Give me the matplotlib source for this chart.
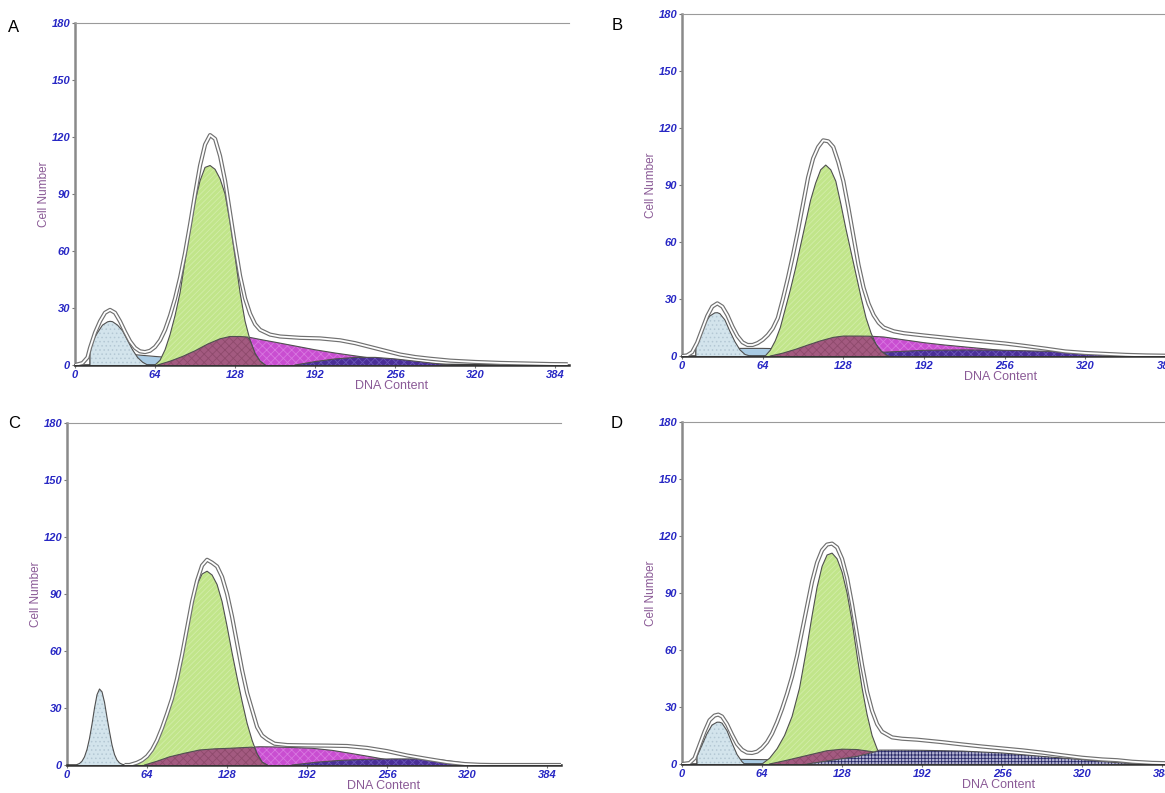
import matplotlib
matplotlib.use("Agg")
import matplotlib.pyplot as plt

plt.rcParams['font.family'] = ['Liberation Sans', 'DejaVu Sans']
plt.rcParams['hatch.linewidth'] = 0.6

# ---------------- panel A ----------------
a_env_x = [0, 6, 10, 12, 16, 20, 24, 28, 32, 36, 40, 44, 48, 52, 56, 60, 64, 68, 72, 76, 80, 84, 88, 92, 96,
           100, 104, 108, 112, 116, 120, 124, 128, 132, 136, 140, 144, 148, 156, 164, 180, 196, 212, 224, 236,
           248, 260, 272, 284, 300, 320, 340, 360, 380, 394]
a_env_y = [0, 1, 4, 9, 17, 23, 27.5, 29, 27.5, 23, 17.5, 12.5, 9, 7.2, 6.8, 7.5, 9.5, 13, 18.5, 26, 35, 46, 59, 74, 90,
           105, 116, 121, 119, 110, 97, 80, 63, 47, 35, 27, 21.5, 18.5, 16, 15, 14.3, 14, 13, 11.5, 9.5,
           7.5, 5.5, 4.2, 3.3, 2.3, 1.6, 1.1, 0.8, 0.5, 0.4]
a_base_x = [12, 12, 30, 50, 64, 76, 100, 128, 160, 192, 224, 256, 288, 320, 352, 384]
a_base_y = [0, 7.5, 6.5, 5.3, 4.5, 3.9, 3.2, 2.5, 1.9, 1.4, 1.0, 0.7, 0.5, 0.3, 0.2, 0.1]
a_deb_x = [12, 12, 14, 18, 22, 26, 28, 30, 34, 38, 42, 46, 50, 54, 58]
a_deb_y = [0, 10, 12.5, 17, 21, 22.7, 23, 22.8, 21, 18, 13, 8, 4, 1.5, 0]
a_g1_x = [64, 68, 72, 76, 80, 84, 88, 92, 96, 100, 104, 108, 112, 116, 120, 124, 128, 132, 136, 140, 144, 148, 152]
a_g1_y = [0, 2.5, 8, 16, 26, 38, 55, 71, 86, 97, 104, 105, 103, 98, 90, 75, 57, 38, 23, 13, 6, 2, 0]
a_s_x = [66, 76, 86, 96, 106, 116, 124, 132, 140, 150, 160, 176, 192, 208, 224, 240, 256, 272, 288]
a_s_y = [0, 2, 4.5, 7.5, 11, 13.8, 15, 15, 14.5, 13.2, 12, 10, 8, 6.3, 4.8, 3.3, 1.8, 0.7, 0]
a_mv_x = [66, 76, 86, 96, 106, 116, 124, 132, 138, 140, 144, 148, 152]
a_mv_y = [0, 2, 4.5, 7.5, 11, 13.8, 15, 15, 14.7, 13, 6, 2, 0]
a_g2_x = [176, 192, 208, 224, 240, 256, 272, 288, 300]
a_g2_y = [0, 1.8, 3.2, 4, 4, 3.2, 2, 0.8, 0]

# ---------------- panel B ----------------
b_env_x = [0, 4, 8, 12, 16, 20, 24, 28, 32, 36, 40, 44, 48, 52, 56, 60, 64, 68, 72, 76, 80, 84, 88, 92, 96,
           100, 104, 108, 112, 116, 120, 124, 128, 132, 136, 140, 144, 148, 152, 156, 160, 168, 176, 192, 208,
           224, 240, 256, 272, 288, 304, 320, 336, 352, 368, 384, 395]
b_env_y = [0, 0.3, 2, 7, 14, 21, 26, 27.7, 26, 21.5, 15.5, 10.5, 7.2, 5.8, 5.8, 6.8, 8.5, 11, 14.5, 20, 30, 41, 53, 66, 80,
           94, 104, 110, 113.5, 113, 110, 102, 92, 78, 63, 48, 36, 27.5, 21.5, 17.5, 15, 13, 12, 10.8, 9.7,
           8.6, 7.6, 6.6, 5.3, 3.9, 2.4, 1.6, 1.1, 0.6, 0.3, 0.15, 0.1]
b_base_x = [11, 11, 40, 64, 80, 128, 192, 256, 320, 384]
b_base_y = [0, 4, 4, 4, 3.8, 3, 2, 1.2, 0.6, 0.2]
b_deb_x = [11, 11, 14, 18, 22, 26, 28, 30, 34, 38, 42, 46, 50, 54]
b_deb_y = [0, 5, 11, 17, 21, 22.7, 22.8, 22.3, 19, 13, 7.5, 3.2, 0.8, 0]
b_g1_x = [66, 70, 74, 78, 82, 86, 90, 94, 98, 102, 106, 110, 114, 118, 122, 126, 130, 134, 138, 142, 146, 150, 154, 158, 162]
b_g1_y = [0, 3, 8, 15, 25, 35, 46, 58, 70, 82, 91, 98, 100.5, 98, 92, 80, 67, 55, 43, 31, 20, 12, 6, 2.5, 0.5]
b_s_x = [70, 80, 90, 100, 110, 120, 128, 140, 152, 160, 176, 192, 208, 224, 240, 256, 272, 288, 300]
b_s_y = [0, 1.5, 3.5, 5.8, 8, 9.8, 10.5, 10.5, 10.3, 10, 8.5, 7, 5.8, 4.8, 3.8, 2.8, 1.8, 0.8, 0]
b_mv_x = [70, 80, 90, 100, 110, 120, 128, 140, 150, 154, 158, 162, 164]
b_mv_y = [0, 1.5, 3.5, 5.8, 8, 9.8, 10.5, 10.5, 10.4, 6, 2.5, 0.5, 0]
b_g2_x = [140, 160, 192, 224, 256, 288, 320, 340, 356]
b_g2_y = [0, 2, 3, 3.2, 3, 2.5, 1.6, 0.8, 0]

# ---------------- panel C ----------------
c_env_x = [46, 50, 56, 60, 64, 68, 72, 76, 80, 84, 88, 92, 96, 100, 104, 108, 112, 116, 120, 124, 128, 132, 136,
           140, 144, 148, 152, 156, 160, 166, 176, 192, 208, 224, 240, 256, 272, 288, 304, 318, 330, 340, 395]
c_env_y = [0, 0, 1.2, 2.5, 4.6, 8, 13, 19.5, 27, 35, 45.5, 58, 72, 86, 97, 105, 108, 106.5, 104.5, 99, 90, 78, 64,
           50, 38, 29, 20, 15.5, 13.5, 11.2, 10.5, 10.3, 10.2, 10, 9, 7.3, 5, 3.2, 1.5, 0.5, 0.1, 0, 0]
c_deb_x = [8, 10, 12, 14, 16, 18, 20, 22, 24, 26, 28, 30, 32, 34, 36, 38, 40, 42, 44, 46]
c_deb_y = [0.25, 0.8, 2, 4.3, 8.2, 14, 21.5, 30, 37, 40, 38.5, 33, 25, 17.5, 10.5, 5.5, 2.6, 1.1, 0.4, 0.1]
c_g1_x = [50, 56, 60, 64, 68, 72, 76, 80, 84, 88, 92, 96, 100, 104, 108, 112, 116, 120, 124, 128, 132, 136,
          140, 144, 148, 152, 156, 160]
c_g1_y = [0, 1.2, 2.5, 4.6, 8, 13, 19.5, 26, 34, 45.5, 58, 72, 86, 95, 100.5, 102, 100, 95, 86, 73, 59, 46,
          33.5, 22, 13, 5.8, 1.5, 0]
c_s_x = [62, 72, 82, 94, 106, 118, 130, 142, 154, 166, 180, 196, 212, 228, 244, 260, 272, 280]
c_s_y = [0, 2, 4.3, 6.2, 7.9, 8.5, 8.8, 9.2, 9.6, 9.5, 9.2, 8.8, 7.7, 6, 4.2, 2.3, 1, 0]
c_mv_x = [62, 72, 82, 94, 106, 118, 130, 142, 148, 150, 152, 156, 160]
c_mv_y = [0, 2, 4.3, 6.2, 7.9, 8.5, 8.8, 9.2, 9.4, 9, 5.8, 1.5, 0]
c_g2_x = [180, 200, 220, 240, 260, 280, 300, 316, 328]
c_g2_y = [0, 1.5, 2.5, 3, 3.2, 3.2, 2.6, 1.2, 0]

# ---------------- panel D ----------------
d_env_x = [0, 6, 10, 14, 18, 22, 26, 29, 32, 36, 40, 44, 48, 52, 56, 60, 64, 68, 72, 76, 80, 84, 88, 92, 96,
           100, 104, 108, 112, 116, 120, 124, 128, 132, 136, 140, 144, 148, 152, 156, 160, 168, 176, 188, 208,
           224, 240, 256, 272, 288, 304, 320, 336, 348, 360, 376, 395]
d_env_y = [0, 0.5, 3, 10, 17, 23, 25.5, 26, 25, 21, 15.5, 10.5, 7.5, 6, 5.8, 6.5, 8.5, 11.5, 16, 22, 29, 37, 46, 57, 70,
           83, 96, 106, 112.5, 115.5, 116, 114, 108, 98, 84, 68, 52, 38, 28, 21, 17, 14, 13.3, 12.8, 11.5,
           10.3, 9.2, 8.2, 7.2, 6, 4.6, 3.3, 2.4, 2, 1.2, 0.6, 0.3]
d_base_x = [12, 12, 40, 64, 100, 128, 192, 256, 320, 384]
d_base_y = [0, 2.8, 2.5, 2.3, 2, 1.7, 1.2, 0.8, 0.4, 0.1]
d_deb_x = [12, 12, 16, 20, 24, 28, 30, 32, 36, 40, 44, 48, 50]
d_deb_y = [0, 4, 10, 16, 20.5, 22, 22, 21.5, 17.5, 11, 5, 1.2, 0]
d_g1_x = [64, 70, 76, 82, 88, 94, 100, 104, 108, 112, 116, 120, 124, 128, 132, 136, 140, 144, 148, 152, 156, 160, 164]
d_g1_y = [0, 3, 8, 15, 25, 40, 62, 78, 93, 104, 110, 111, 108, 101, 90, 75, 57, 40, 26, 15, 8, 3, 0]
d_s_x = [70, 84, 100, 116, 128, 140, 152, 160, 176, 192, 224, 256, 280]
d_s_y = [0, 2, 4.5, 7, 7.8, 7.6, 6.5, 5, 3.5, 3, 2.2, 1.2, 0]
d_mv_x = [70, 84, 100, 116, 128, 140, 152, 156, 160, 164]
d_mv_y = [0, 2, 4.5, 7, 7.8, 7.6, 6.5, 5.8, 3, 0]
d_grid_x = [100, 120, 140, 152, 158, 176, 192, 224, 256, 288, 320, 348, 370]
d_grid_y = [0, 2, 4, 6, 7.3, 7.3, 7.2, 6.8, 5.8, 4, 2.3, 0.7, 0]

y_ticks = [0, 30, 60, 90, 120, 150, 180]
x_ticks = [0, 64, 128, 192, 256, 320, 384]

TICK_BLUE = '#2727c4'
LABEL_PURPLE = '#8a5a96'
OUTLINE = '#505050'


def area(ax, x, y, face, hatch=None, hatch_col=None, z=2, outline=True):
    ax.fill_between(x, 0, y, facecolor=face, edgecolor=hatch_col or face, hatch=hatch, linewidth=0, zorder=z)
    if outline:
        ax.plot(x, y, color=OUTLINE, lw=0.8, zorder=z + 0.1)


def panel(ax, env, base, deb, g1, s, mv, g2, grid=None):
    if base is not None:
        area(ax, *base, '#a9cbe4', z=2, outline=True)
    area(ax, *deb, '#d3e4ec', hatch='....', hatch_col='#b4c8d4', z=3)
    area(ax, *s, '#c94ed1', hatch='xxxx', hatch_col='#d877e0', z=4)
    if g2 is not None:
        area(ax, *g2, '#4a2f96', hatch='xxxx', hatch_col='#6a55b8', z=5)
    area(ax, *g1, '#c1e58a', hatch='//////', hatch_col='#d2eda8', z=6)
    area(ax, *mv, '#a35a80', hatch='xxxx', hatch_col='#8e4a6c', z=7)
    if grid is not None:
        area(ax, *grid, '#b4b4d2', hatch='+++++', hatch_col='#262666', z=7.5)
    ex, ey = env
    ax.plot(ex, ey, color='#707070', lw=3.0, zorder=9, solid_capstyle='butt')
    ax.plot(ex, ey, color='white', lw=1.3, zorder=9.1, solid_capstyle='butt')

    ax.set_xlim(0, 395)
    ax.set_ylim(0, 180)
    ax.set_xticks(x_ticks)
    ax.set_yticks(y_ticks)
    ax.tick_params(axis='both', labelsize=8, labelcolor=TICK_BLUE, color='#777777', length=2.5, width=0.8, pad=1)
    for lab in ax.get_xticklabels() + ax.get_yticklabels():
        lab.set_fontweight('bold')
        lab.set_fontstyle('italic')
    ax.spines['right'].set_visible(False)
    ax.spines['top'].set_color('#9a9a9a')
    ax.spines['top'].set_linewidth(0.8)
    ax.spines['left'].set_color('#8a8a8a')
    ax.spines['left'].set_linewidth(1.8)
    ax.spines['bottom'].set_color('#333333')
    ax.spines['bottom'].set_linewidth(1.8)
    ax.text(-0.063, 0.5, 'Cell Number', transform=ax.transAxes, rotation=90, ha='center', va='center',
            color=LABEL_PURPLE, fontsize=8.5)
    ax.text(0.64, -0.062, 'DNA Content', transform=ax.transAxes, ha='center', va='center',
            color=LABEL_PURPLE, fontsize=9)


W, H = 1165, 793
fig = plt.figure(figsize=(W / 100, H / 100), dpi=100)


def add_axes(x0, y0, width):
    # x0, y0: pixel position of the data origin (top-left image coords)
    return fig.add_axes([x0 / W, (H - y0) / H, width / W, 342 / H])


ax_a = add_axes(75, 365, 494)
ax_b = add_axes(682, 356, 498)
ax_c = add_axes(67, 765, 494)
ax_d = add_axes(682, 764, 494)

panel(ax_a, (a_env_x, a_env_y), (a_base_x, a_base_y), (a_deb_x, a_deb_y), (a_g1_x, a_g1_y),
      (a_s_x, a_s_y), (a_mv_x, a_mv_y), (a_g2_x, a_g2_y))
panel(ax_b, (b_env_x, b_env_y), (b_base_x, b_base_y), (b_deb_x, b_deb_y), (b_g1_x, b_g1_y),
      (b_s_x, b_s_y), (b_mv_x, b_mv_y), (b_g2_x, b_g2_y))
panel(ax_c, (c_env_x, c_env_y), None, (c_deb_x, c_deb_y), (c_g1_x, c_g1_y),
      (c_s_x, c_s_y), (c_mv_x, c_mv_y), (c_g2_x, c_g2_y))
panel(ax_d, (d_env_x, d_env_y), (d_base_x, d_base_y), (d_deb_x, d_deb_y), (d_g1_x, d_g1_y),
      (d_s_x, d_s_y), (d_mv_x, d_mv_y), None, grid=(d_grid_x, d_grid_y))

# panel letters at their pixel positions
for letter, px, py in [('A', 14, 28), ('B', 617, 25), ('C', 14, 423), ('D', 617, 423)]:
    fig.text(px / W, 1 - py / H, letter, ha='center', va='center', fontsize=12, color='black')

fig.savefig('out.png', dpi=100)
